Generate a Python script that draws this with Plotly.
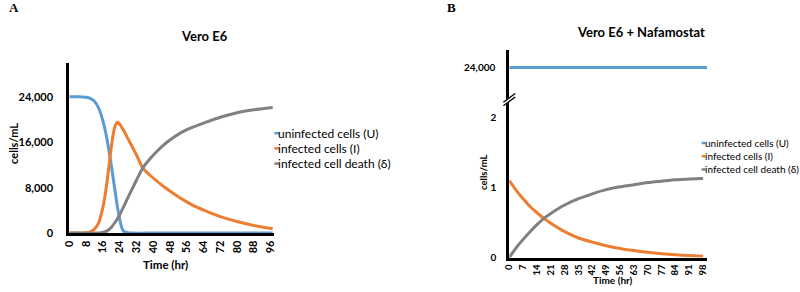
import plotly.graph_objects as go

W, H = 800, 292
def px_x(v): return v / W
def px_y(v): return 1 - v / H

# ---------------- Data: panel A (Vero E6) ----------------
series_names = ["uninfected cells (U)", "infected cells (I)", "infected cell death (\u03b4)"]
colors = ["#5B9BD5", "#ED7D31", "#808080"]

a_u_t = [0, 4, 8, 10, 12, 14, 16, 18, 19, 20, 21, 22, 23, 24, 25, 26, 28, 30, 40, 60, 80, 97]
a_u_v = [24000, 24000, 23900, 23700, 23200, 22000, 19800, 16500, 14300, 12000, 9500, 7000, 4500, 2500, 1000, 300, 50, 0, 0, 0, 0, 0]

a_i_t = [0, 8, 10, 12, 14, 16, 17, 18, 19, 20, 21, 22, 23, 24, 26, 28, 30, 32, 35, 40, 45, 50, 56, 60, 65, 72, 80, 88, 97]
a_i_v = [0, 50, 200, 700, 1800, 4500, 6500, 9000, 12000, 15000, 17500, 19000, 19500, 19200, 18000, 16600, 15200, 13800, 11500,
         9700, 8200, 6900, 5500, 4700, 3900, 2900, 2050, 1350, 750]

a_d_t = [0, 14, 16, 18, 20, 22, 24, 26, 28, 30, 32, 35, 40, 44, 50, 56, 65, 72, 80, 88, 97]
a_d_v = [0, 0, 100, 400, 1000, 2000, 3200, 4700, 6300, 7800, 9300, 11450, 13700, 15200, 16900, 18200, 19500, 20400, 21200, 21700, 22100]

a_xticks = list(range(0, 97, 8))
a_yticks = [0, 8000, 16000, 24000]

# ---------------- Data: panel B (Vero E6 + Nafamostat) ----------------
b_u_t = [0, 100]
b_u_v = [24000, 24000]

b_t = [0, 3.5, 7, 10.5, 14, 17.5, 21, 28, 35, 42, 49, 56, 63, 70, 77, 84, 91, 98]
b_i_v = [1.10, 0.96, 0.84, 0.73, 0.64, 0.56, 0.49, 0.37, 0.28, 0.22, 0.17, 0.13, 0.10, 0.075, 0.055, 0.04, 0.03, 0.02]
b_d_v = [0, 0.14, 0.26, 0.37, 0.47, 0.56, 0.63, 0.75, 0.84, 0.91, 0.97, 1.01, 1.04, 1.07, 1.09, 1.11, 1.12, 1.13]

b_xticks = list(range(0, 99, 7))
b_yticks_low = [0, 1, 2]
b_yticks_high = [24000]

FONT = "Lato"
fig = go.Figure()

lw = 3
fig.add_trace(go.Scatter(x=a_u_t, y=a_u_v, mode="lines", line=dict(color=colors[0], width=lw, shape="spline", smoothing=0.6),
                         name=series_names[0], xaxis="x", yaxis="y", showlegend=False))
fig.add_trace(go.Scatter(x=a_i_t, y=a_i_v, mode="lines", line=dict(color=colors[1], width=lw, shape="spline", smoothing=0.6),
                         name=series_names[1], xaxis="x", yaxis="y", showlegend=False))
fig.add_trace(go.Scatter(x=a_d_t, y=a_d_v, mode="lines", line=dict(color=colors[2], width=lw, shape="spline", smoothing=0.6),
                         name=series_names[2], xaxis="x", yaxis="y", showlegend=False))

fig.add_trace(go.Scatter(x=b_u_t, y=b_u_v, mode="lines", line=dict(color=colors[0], width=lw),
                         name=series_names[0], xaxis="x3", yaxis="y3", showlegend=False))
fig.add_trace(go.Scatter(x=b_t, y=b_i_v, mode="lines", line=dict(color=colors[1], width=lw, shape="spline", smoothing=0.6),
                         name=series_names[1], xaxis="x2", yaxis="y2", showlegend=False))
fig.add_trace(go.Scatter(x=b_t, y=b_d_v, mode="lines", line=dict(color=colors[2], width=lw, shape="spline", smoothing=0.6),
                         name=series_names[2], xaxis="x2", yaxis="y2", showlegend=False))

axis_common = dict(showline=True, linecolor="black", linewidth=3, showgrid=False, zeroline=False,
                   ticks="", layer="below traces", fixedrange=True)

fig.update_layout(
    width=W, height=H,
    margin=dict(l=0, r=0, t=0, b=0),
    paper_bgcolor="white", plot_bgcolor="white",
    font=dict(family=FONT, color="black"),
    showlegend=False,
    xaxis=dict(domain=[px_x(63), px_x(270)], range=[0, 97.6], tickvals=a_xticks, tickangle=-90,
               tickfont=dict(size=11, family=FONT, weight="bold"), anchor="y", **axis_common),
    yaxis=dict(domain=[px_y(238), px_y(64)], range=[0, 30000], tickvals=a_yticks, tickformat=",",
               tickfont=dict(size=11, family=FONT, weight="bold"), anchor="x", ticklabelstandoff=11, **axis_common),
    xaxis2=dict(domain=[px_x(508), px_x(708)], range=[0, 100], tickvals=b_xticks, tickangle=-90,
                tickfont=dict(size=9.5, family=FONT, weight="bold"), anchor="y2", **axis_common),
    yaxis2=dict(domain=[px_y(263), px_y(102)], range=[0, 2.25], tickvals=b_yticks_low,
                tickfont=dict(size=10, family=FONT, weight="bold"), anchor="x2", ticklabelstandoff=8, **axis_common),
    xaxis3=dict(domain=[px_x(508), px_x(708)], range=[0, 100], visible=False, anchor="y3", fixedrange=True),
    yaxis3=dict(domain=[px_y(102), px_y(51)], range=[23000, 24545], tickvals=b_yticks_high, tickformat=",",
                tickfont=dict(size=10, family=FONT, weight="bold"), anchor="x3", ticklabelstandoff=9, **axis_common),
)

ann = []
def add_text(x, y, text, size, weight="bold", xanchor="center", yanchor="middle", angle=0, family=FONT):
    ann.append(dict(x=px_x(x), y=px_y(y), xref="paper", yref="paper", text=text, showarrow=False,
                    xanchor=xanchor, yanchor=yanchor, textangle=angle, borderpad=0,
                    font=dict(size=size, family=family, weight=weight, color="black")))

# panel letters
add_text(7, 8, "A", 13, family="Liberation Serif")
add_text(450, 8, "B", 13, family="Liberation Serif")
# titles
add_text(200, 37, "Vero E6", 13)
add_text(641, 33, "Vero E6 + Nafamostat", 13)
# axis titles
add_text(6, 146, "cells/mL", 11, angle=-90)
add_text(160, 270, "Time (hr)", 11.5)
add_text(482, 176, "cells/mL", 9.5, angle=-90)
add_text(613, 286, "Time (hr)", 10)

shapes = []
# legends (text + small colored dash markers)
for i, (nm, c) in enumerate(zip(series_names, colors)):
    ya = 136 + i * 15.5
    add_text(273, ya, nm, 12, weight="normal", xanchor="left")
    shapes.append(dict(type="line", xref="paper", yref="paper", x0=px_x(270.5), x1=px_x(275), y0=px_y(ya), y1=px_y(ya),
                       line=dict(color=c, width=2.5)))
    yb = 146 + i * 13.5
    add_text(705, yb, nm, 10, weight="normal", xanchor="left")
    shapes.append(dict(type="line", xref="paper", yref="paper", x0=px_x(702.5), x1=px_x(706.5), y0=px_y(yb), y1=px_y(yb),
                       line=dict(color=c, width=2.5)))

fig.update_layout(annotations=ann)

# axis break marks on panel B
shapes += [
    dict(type="line", xref="paper", yref="paper", x0=px_x(502), y0=px_y(106), x1=px_x(514), y1=px_y(97),
         line=dict(color="white", width=4)),
    dict(type="line", xref="paper", yref="paper", x0=px_x(502), y0=px_y(104.5), x1=px_x(514), y1=px_y(95.5),
         line=dict(color="black", width=1.3)),
    dict(type="line", xref="paper", yref="paper", x0=px_x(502), y0=px_y(108), x1=px_x(514), y1=px_y(99),
         line=dict(color="black", width=1.3)),
]
fig.update_layout(shapes=shapes)

fig.write_html("out.html", config={"displayModeBar": False},
               post_script="document.body.style.margin='0';document.body.style.overflow='hidden';")
